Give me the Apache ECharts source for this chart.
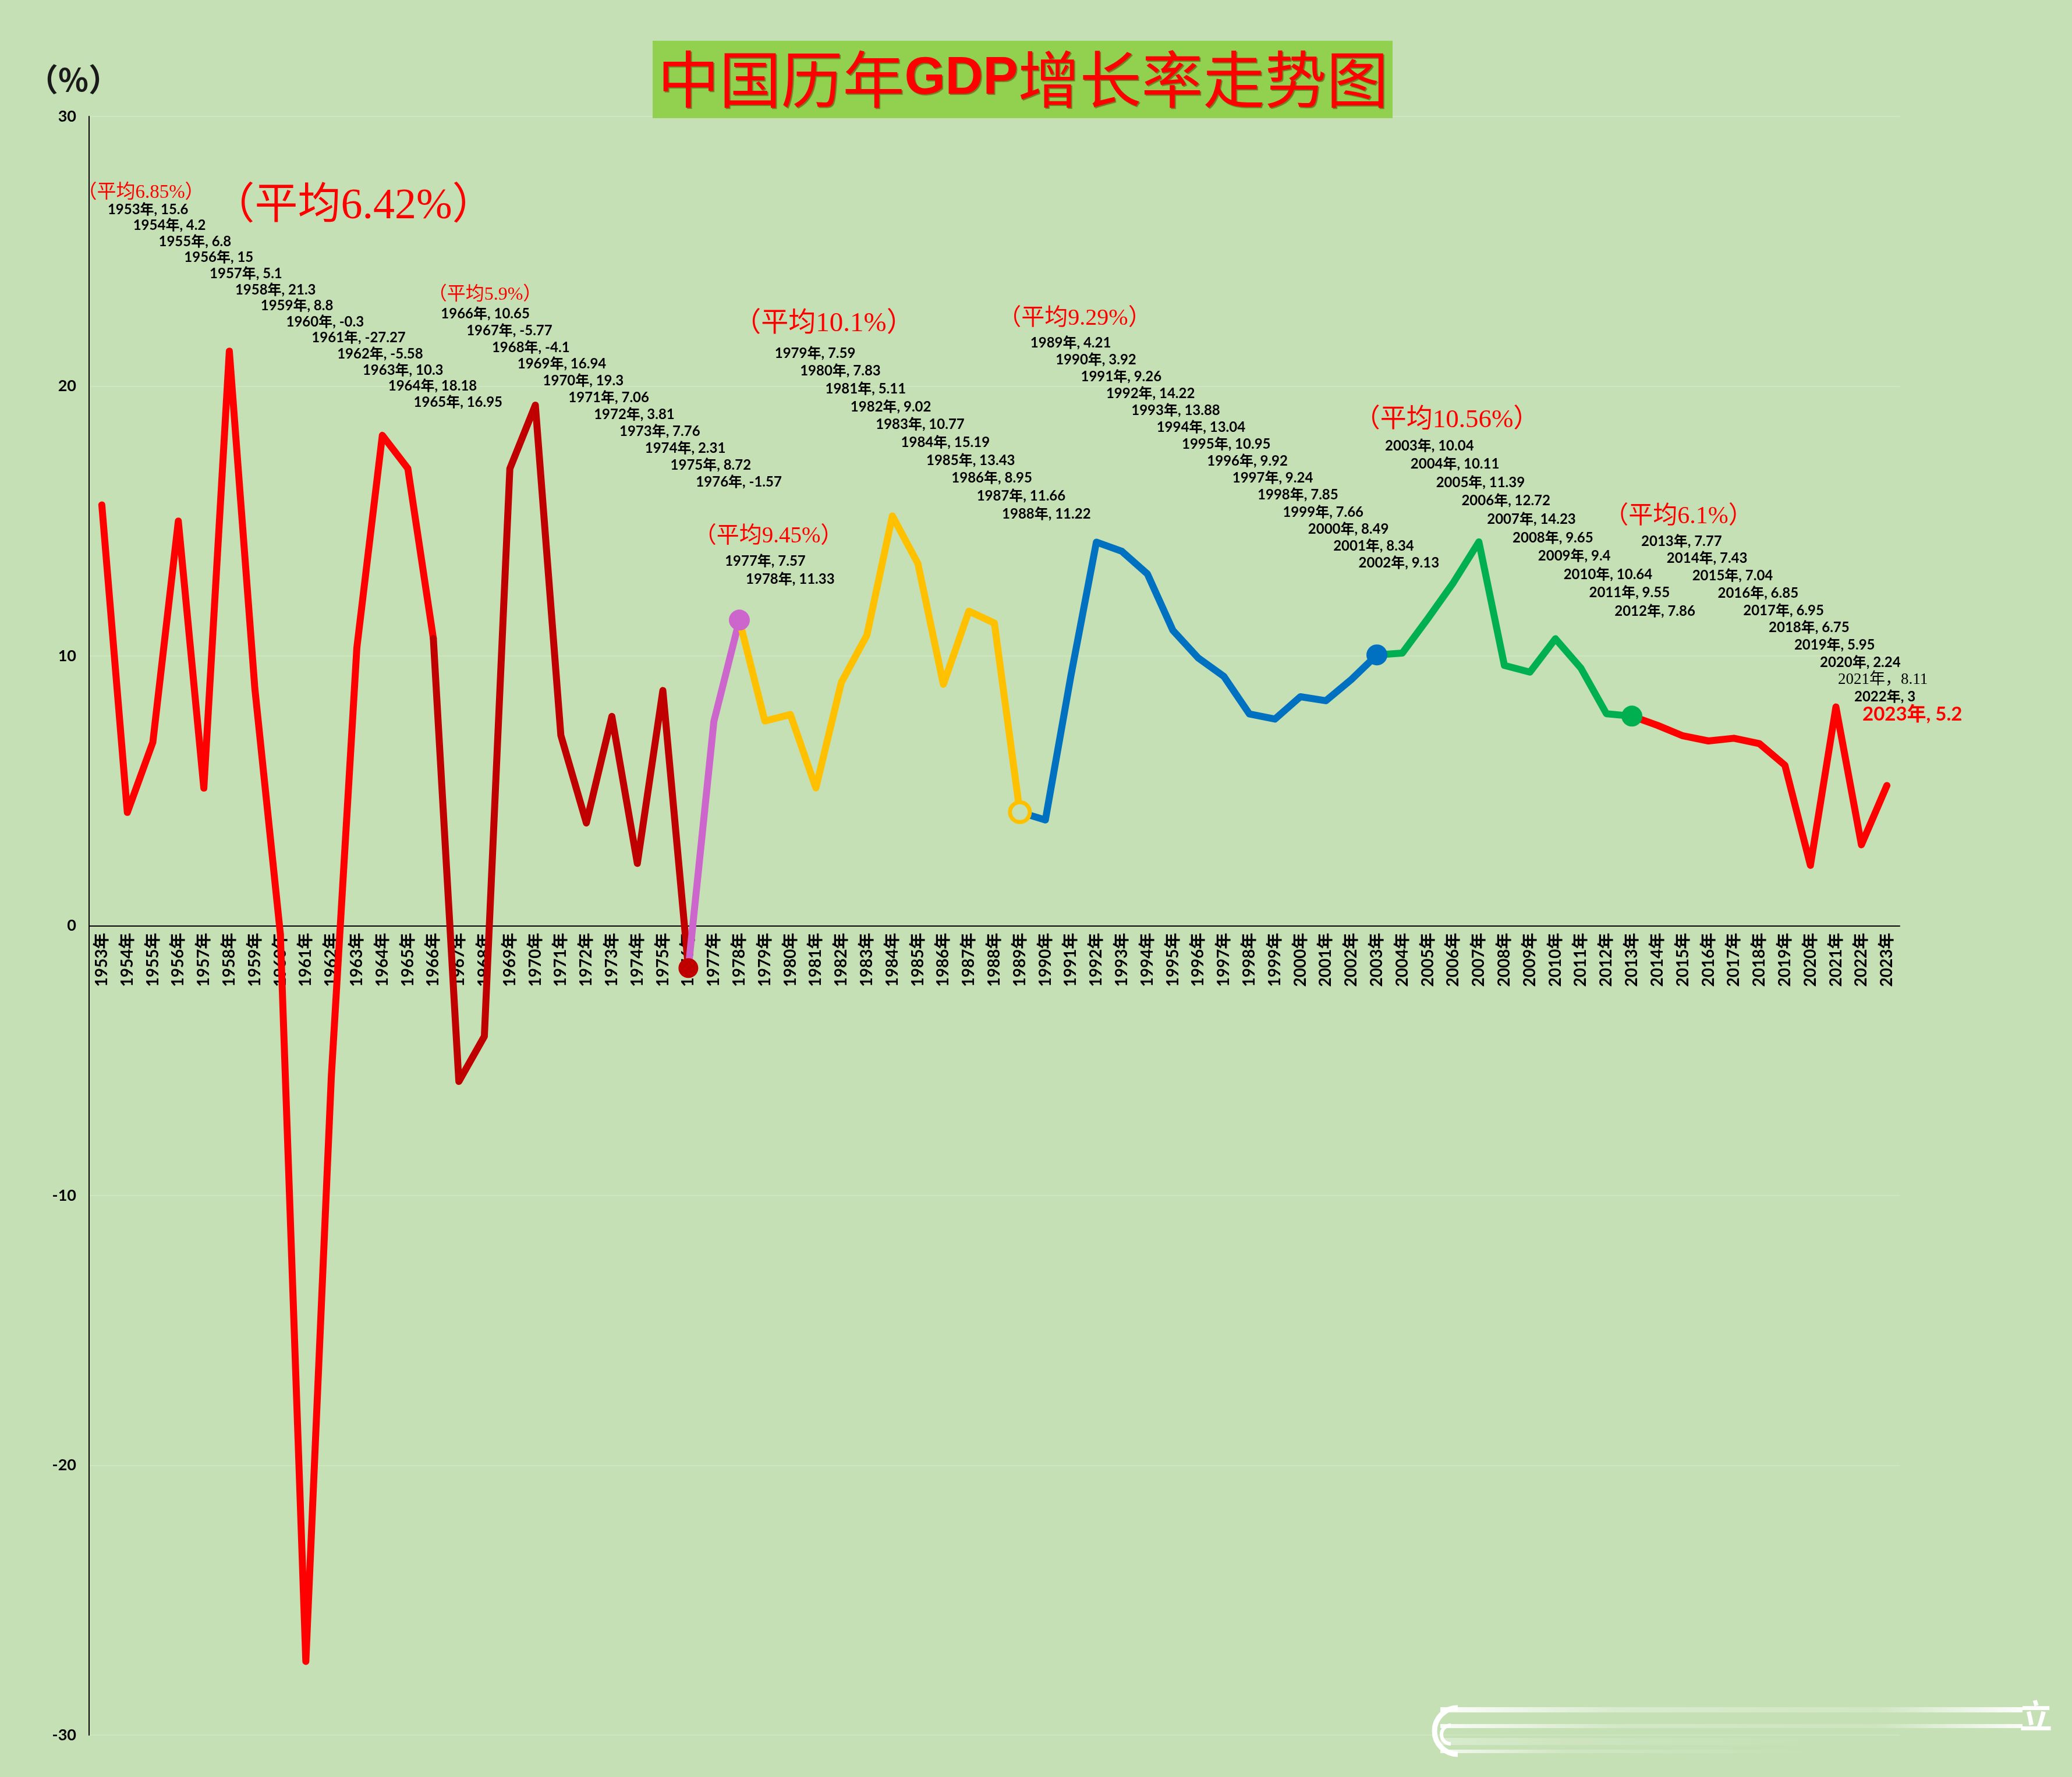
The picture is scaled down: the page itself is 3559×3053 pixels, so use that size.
<!DOCTYPE html>
<html>
<head>
<meta charset="utf-8">
<script src="https://cdn.jsdelivr.net/npm/echarts/dist/echarts.min.js"></script>
<style>
html,body{margin:0;padding:0;background:#C5E0B4;}
#c{width:3559px;height:3053px;}
</style>
</head>
<body>
<div id="c"></div>
<script>
// ---------------- data ----------------
const categories = [
  '1953年','1954年','1955年','1956年','1957年','1958年','1959年','1960年','1961年','1962年',
  '1963年','1964年','1965年','1966年','1967年','1968年','1969年','1970年','1971年','1972年',
  '1973年','1974年','1975年','1976年','1977年','1978年','1979年','1980年','1981年','1982年',
  '1983年','1984年','1985年','1986年','1987年','1988年','1989年','1990年','1991年','1992年',
  '1993年','1994年','1995年','1996年','1997年','1998年','1999年','2000年','2001年','2002年',
  '2003年','2004年','2005年','2006年','2007年','2008年','2009年','2010年','2011年','2012年',
  '2013年','2014年','2015年','2016年','2017年','2018年','2019年','2020年','2021年','2022年',
  '2023年'
];
const growth = [
  15.6, 4.2, 6.8, 15, 5.1, 21.3, 8.8, -0.3, -27.27, -5.58,
  10.3, 18.18, 16.95, 10.65, -5.77, -4.1, 16.94, 19.3, 7.06, 3.81,
  7.76, 2.31, 8.72, -1.57, 7.57, 11.33, 7.59, 7.83, 5.11, 9.02,
  10.77, 15.19, 13.43, 8.95, 11.66, 11.22, 4.21, 3.92, 9.26, 14.22,
  13.88, 13.04, 10.95, 9.92, 9.24, 7.85, 7.66, 8.49, 8.34, 9.13,
  10.04, 10.11, 11.39, 12.72, 14.23, 9.65, 9.4, 10.64, 9.55, 7.86,
  7.77, 7.43, 7.04, 6.85, 6.95, 6.75, 5.95, 2.24, 8.11, 3,
  5.2
];
// coloured line periods (start year, end year)
const periods = [
  ['1953年','1966年'], ['1966年','1976年'], ['1976年','1978年'], ['1978年','1989年'],
  ['1989年','2003年'], ['2003年','2013年'], ['2013年','2023年']
];
// label groups (staircase of data labels)
const labelGroups = [
  ['1953年','1965年'], ['1966年','1976年'], ['1977年','1978年'], ['1979年','1988年'],
  ['1989年','2002年'], ['2003年','2012年'], ['2013年','2023年']
];
const averageTexts = ['（平均6.85%）','（平均6.42%）','（平均5.9%）','（平均9.45%）',
  '（平均10.1%）','（平均9.29%）','（平均10.56%）','（平均6.1%）'];
const yTicks = { min: -30, max: 30, step: 10 };

// ---------------- styles / layout ----------------
const BG = '#C5E0B4';
const periodColors = ['#FF0000','#C00000','#CC66CC','#FFC000','#0070C0','#00B050','#FF0000'];
const endMarkers = [
  null,
  { size: 34, fill: '#C00000', border: '#C00000', bw: 0 },
  { size: 36, fill: '#CC66CC', border: '#CC66CC', bw: 0 },
  { size: 34, fill: BG, border: '#FFC000', bw: 7 },
  { size: 36, fill: '#0070C0', border: '#0070C0', bw: 0 },
  { size: 36, fill: '#00B050', border: '#00B050', bw: 0 },
  null
];
const labelLayout = [
  { dx: 10, k: 1.0,  y0: 360, y1: 691 },
  { dx: 13, k: 1.0,  y0: 539, y1: 828 },
  { dx: 19, k: 0.82, y0: 964, y1: 995 },
  { dx: 17, k: 0.99, y0: 607, y1: 883 },
  { dx: 18, k: 0.99, y0: 589, y1: 967 },
  { dx: 14, k: 1.0,  y0: 766, y1: 1050 },
  { dx: 16, k: 1.0,  y0: 930, y1: 1227 }
];
// hand-moved labels at the crowded right end (pixel x)
const labelXOverride = { '2020年': 3126, '2021年': 3157, '2022年': 3185, '2023年': 3199 };
const avgLayout = [
  { x: 242,  y: 331, size: 33 },
  { x: 607,  y: 356, size: 74 },
  { x: 833,  y: 507, size: 32 },
  { x: 1320, y: 922, size: 39 },
  { x: 1415, y: 557, size: 47 },
  { x: 1846, y: 547, size: 40 },
  { x: 2485, y: 722, size: 45 },
  { x: 2883, y: 888, size: 42 }
];
const LABEL_FONT = 'Lato, "Noto Sans CJK SC", sans-serif';
const SERIF_FONT = '"Liberation Serif", "Noto Sans CJK SC", serif';
const GRID = { left: 153, right: 296, top: 200, bottom: 72 };
const PLOT_H = 3053 - GRID.top - GRID.bottom;

const chart = echarts.init(document.getElementById('c'), null, { renderer: 'canvas' });

// line series, one per coloured period
const lineSeries = periods.map((p, k) => {
  const a = categories.indexOf(p[0]), b = categories.indexOf(p[1]);
  const mk = endMarkers[k];
  return {
    type: 'line',
    data: growth.map((v, i) => (i >= a && i <= b) ? v : null),
    connectNulls: false,
    showSymbol: true,
    showAllSymbol: true,
    symbol: (v, params) => (mk && params.dataIndex === b) ? 'circle' : 'none',
    symbolSize: mk ? mk.size : 0,
    itemStyle: mk ? { color: mk.fill, borderColor: mk.border, borderWidth: mk.bw } : { color: periodColors[k] },
    lineStyle: { color: periodColors[k], width: 12, cap: 'round', join: 'round' },
    emphasis: { disabled: true },
    silent: true,
    z: 2
  };
});

// data label series (staircase text)
const labelSeries = labelGroups.map((g, gi) => {
  const i0 = categories.indexOf(g[0]), i1 = categories.indexOf(g[1]);
  const data = [];
  for (let i = i0; i <= i1; i++) data.push([categories[i], growth[i]]);
  const L = labelLayout[gi];
  return {
    type: 'custom',
    silent: true,
    clip: false,
    z: 6,
    encode: { x: 0, y: 1 },
    data,
    renderItem(params, api) {
      const j = params.dataIndex, n = data.length;
      const base = api.coord([i0, 0])[0];
      const cx = api.coord([api.value(0), 0])[0];
      const year = categories[i0 + j];
      const v = growth[i0 + j];
      const x = labelXOverride[year] !== undefined ? labelXOverride[year] : base + L.dx + (cx - base) * L.k;
      const y = n > 1 ? L.y0 + (L.y1 - L.y0) * j / (n - 1) : L.y0;
      let style = {
        text: year + ', ' + v, x: 0, y: 0,
        fill: '#000', fontSize: 24, fontWeight: 'bold', fontFamily: LABEL_FONT,
        align: 'left', verticalAlign: 'middle'
      };
      if (year === '2021年') {
        style.text = year + '，' + v;
        style.fontWeight = 'normal'; style.fontFamily = SERIF_FONT; style.fontSize = 27;
      }
      if (year === '2023年') {
        style.fill = '#FF0000'; style.fontSize = 33;
      }
      return { type: 'text', x, y, style };
    }
  };
});

const graphics = [];
// title box
graphics.push({ type: 'rect', shape: { x: 1121, y: 70, width: 1271, height: 133 }, style: { fill: '#92D050' }, z: 10 });
graphics.push({
  type: 'text', x: 1757, y: 136, z: 11,
  style: {
    text: '{a|中国历年}{b|GDP}{a|增长率走势图}',
    align: 'center', verticalAlign: 'middle',
    textShadowColor: 'rgba(90,50,0,0.55)', textShadowOffsetX: 2, textShadowOffsetY: 2, textShadowBlur: 1,
    rich: {
      a: { fontSize: 106, fontFamily: '"Noto Sans CJK SC"', fill: '#FF0000', fontWeight: 'normal' },
      b: { fontSize: 90, fontFamily: '"Liberation Sans", Arial, sans-serif', fill: '#FF0000', fontWeight: 'bold' }
    }
  }
});
// y axis unit
graphics.push({
  type: 'text', x: 126, y: 136, z: 11,
  style: { text: '（%）', align: 'center', verticalAlign: 'middle', fontSize: 54, fontWeight: 'bold',
    fontFamily: '"Noto Sans CJK SC", sans-serif', fill: '#1a1a1a' }
});
// averages
averageTexts.forEach((t, i) => {
  const a = avgLayout[i];
  graphics.push({
    type: 'text', x: a.x, y: a.y, z: 11,
    style: { text: t, align: 'center', verticalAlign: 'middle', fontSize: a.size,
      fontFamily: SERIF_FONT, fill: '#FF0000' }
  });
});
// watermark (bottom right)
const fade = (a0, a1, a2, a3) => new echarts.graphic.LinearGradient(0, 0, 1, 0, [
  { offset: 0, color: 'rgba(255,255,255,' + a0 + ')' },
  { offset: 0.3, color: 'rgba(255,255,255,' + a1 + ')' },
  { offset: 0.75, color: 'rgba(255,255,255,' + a2 + ')' },
  { offset: 1, color: 'rgba(255,255,255,' + a3 + ')' }
]);
graphics.push({ type: 'rect', shape: { x: 2474, y: 2933, width: 1000, height: 9 }, style: { fill: fade(0.95, 0.35, 0.2, 0.95) }, z: 3 });
graphics.push({ type: 'rect', shape: { x: 2474, y: 2962, width: 1000, height: 7 }, style: { fill: fade(0.9, 0.25, 0.15, 0.9) }, z: 3 });
graphics.push({ type: 'rect', shape: { x: 2474, y: 2986, width: 700, height: 12 }, style: { fill: fade(0.35, 0.15, 0.05, 0) }, z: 3 });
graphics.push({ type: 'rect', shape: { x: 2474, y: 3006, width: 700, height: 6 }, style: { fill: fade(0.8, 0.2, 0.05, 0) }, z: 3 });
graphics.push({ type: 'arc', shape: { cx: 2504, cy: 2974, r: 40, startAngle: Math.PI / 2, endAngle: Math.PI * 1.5 },
  style: { stroke: '#ffffff', lineWidth: 9, fill: null }, z: 3 });
graphics.push({ type: 'arc', shape: { cx: 2492, cy: 2980, r: 16, startAngle: Math.PI / 2, endAngle: Math.PI * 1.5 },
  style: { stroke: '#ffffff', lineWidth: 6, fill: null }, z: 3 });
graphics.push({ type: 'text', x: 3497, y: 2948, z: 3,
  style: { text: '立', align: 'center', verticalAlign: 'middle', fontSize: 56, fontWeight: 'bold',
    fontFamily: '"Noto Sans CJK SC"', fill: '#ffffff' } });

// x axis sits on the value-0 line: shift it up from the grid bottom by the 0 position
const zeroOffset = -PLOT_H * (0 - yTicks.min) / (yTicks.max - yTicks.min);

const option = {
  backgroundColor: BG,
  animation: false,
  grid: { left: GRID.left, right: GRID.right, top: GRID.top, bottom: GRID.bottom,
    containLabel: false, outerBoundsMode: 'none' },
  xAxis: {
    type: 'category',
    data: categories,
    boundaryGap: true,
    offset: zeroOffset,
    axisLine: { show: true, onZero: false, lineStyle: { color: '#000', width: 2 } },
    axisTick: { show: false },
    axisLabel: {
      interval: 0, rotate: 90, margin: 12, color: '#000',
      fontSize: 28, fontWeight: 'bold', fontFamily: LABEL_FONT
    },
    splitLine: { show: false }
  },
  yAxis: {
    type: 'value',
    min: yTicks.min, max: yTicks.max, interval: yTicks.step,
    axisLine: { show: true, onZero: false, lineStyle: { color: '#000', width: 2 } },
    axisTick: { show: false },
    axisLabel: { color: '#000', fontSize: 27, fontWeight: 'bold', fontFamily: LABEL_FONT, margin: 22 },
    splitLine: { show: true, lineStyle: { color: '#CEE5C0', width: 2 } }
  },
  series: lineSeries.concat(labelSeries),
  graphic: graphics
};
chart.setOption(option);
</script>
</body>
</html>
